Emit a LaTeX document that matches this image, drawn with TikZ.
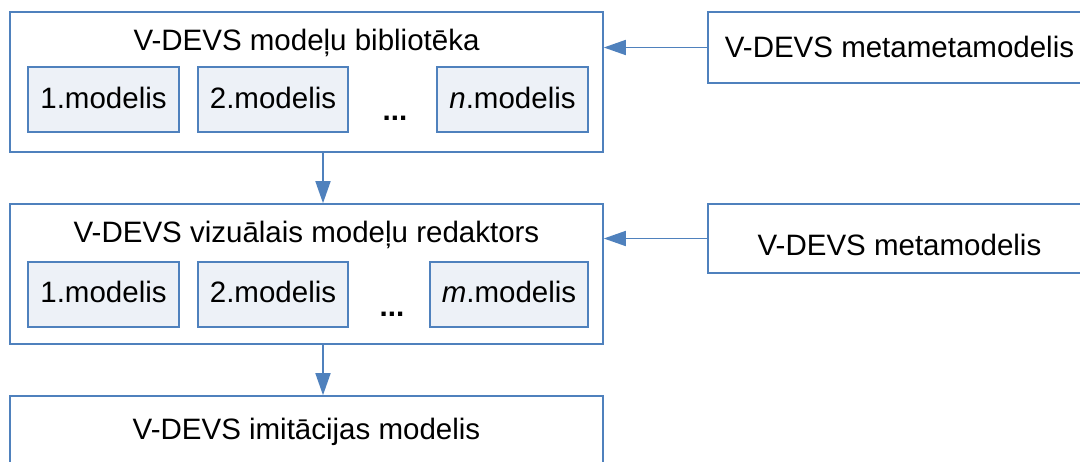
\documentclass[tikz,border=0pt]{standalone}
\usepackage{fontspec}
\setmainfont{Liberation Sans}
\usetikzlibrary{arrows.meta}
\definecolor{edgeblue}{HTML}{4F81BD}
\definecolor{cellfill}{HTML}{EDF1F7}
\tikzset{
  outerbox/.style={draw=edgeblue, line width=1.6pt, fill=white, rectangle, inner sep=0pt},
  cellbox/.style={draw=edgeblue, line width=1.6pt, fill=cellfill, rectangle, inner sep=0pt,
                  minimum height=65pt},
  txt/.style={font=\fontsize{29.5}{35}\selectfont, inner sep=0pt, anchor=base},
  arr/.style={draw=edgeblue, line width=1.6pt, -{Triangle[length=22pt, width=15pt]}}
}
\begin{document}
\begin{tikzpicture}[x=1pt, y=-1pt]
  \clip (0,0) rectangle (1080,461);
  \fill[white] (0,0) rectangle (1080,461);

  % model library
  \node[outerbox, minimum width=593pt, minimum height=140pt] (lib) at (306.5,82) {};
  \node[txt] (libt) at (306.5,50) {V-DEVS modeļu bibliotēka};
  \node[cellbox, minimum width=151pt] (l1) at (103.5,99.5) {};
  \node[txt] at (l1.center |- 0,108) {1.modelis};
  \node[cellbox, minimum width=150pt] (l2) at (273,99.5) {};
  \node[txt] at (l2.center |- 0,108) {2.modelis};
  \node[txt, font=\fontsize{29.5}{35}\selectfont\bfseries] (ldots) at (395,120) {...};
  \node[cellbox, minimum width=151pt] (ln) at (512.5,99.5) {};
  \node[txt] at (ln.center |- 0,108) {\textit{n}.modelis};

  % metametamodel
  \node[outerbox, minimum width=383pt, minimum height=71pt] (mmm) at (899.5,47.5) {};
  \node[txt] at (899.5,57) {V-DEVS metametamodelis};

  % visual model editor
  \node[outerbox, minimum width=593pt, minimum height=140pt] (ed) at (306.5,274) {};
  \node[txt] (edt) at (306.5,242) {V-DEVS vizuālais modeļu redaktors};
  \node[cellbox, minimum width=151pt] (e1) at (103.5,294.5) {};
  \node[txt] at (e1.center |- 0,302) {1.modelis};
  \node[cellbox, minimum width=150pt] (e2) at (273,294.5) {};
  \node[txt] at (e2.center |- 0,302) {2.modelis};
  \node[txt, font=\fontsize{29.5}{35}\selectfont\bfseries] (edots) at (392,316) {...};
  \node[cellbox, minimum width=158pt] (em) at (509,294.5) {};
  \node[txt] at (em.center |- 0,302) {\textit{m}.modelis};

  % metamodel
  \node[outerbox, minimum width=383pt, minimum height=69pt] (mm) at (899.5,238.5) {};
  \node[txt] at (899.5,255) {V-DEVS metamodelis};

  % simulation model
  \node[outerbox, minimum width=593pt, minimum height=80pt] (sim) at (306.5,436) {};
  \node[txt] at (306.5,439) {V-DEVS imitācijas modelis};

  % connectors
  \draw[arr] (mmm.west) -- (mmm.west -| lib.east);
  \draw[arr] (mm.west) -- (mm.west -| ed.east);
  \draw[arr] ([xshift=16.5pt]lib.south) -- ([xshift=16.5pt]ed.north);
  \draw[arr] ([xshift=16.5pt]ed.south) -- ([xshift=16.5pt]sim.north);
\end{tikzpicture}
\end{document}
